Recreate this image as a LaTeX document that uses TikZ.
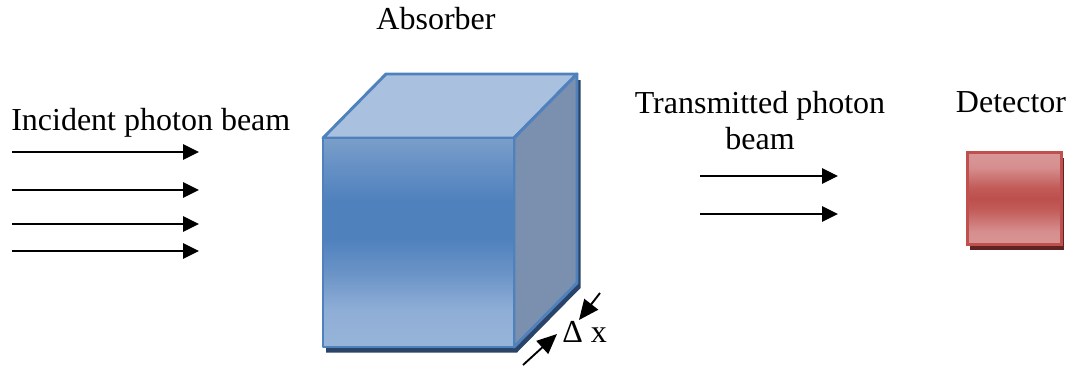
\documentclass[tikz,border=0pt]{standalone}
\usepackage{fontspec}
\setmainfont{Liberation Serif}
\usetikzlibrary{arrows.meta}
\definecolor{bline}{HTML}{4F81BD}
\definecolor{btop}{HTML}{AAC0DF}
\definecolor{bright}{HTML}{7B90AE}
\definecolor{bshadow}{HTML}{2A4468}
\definecolor{rline}{HTML}{C0504D}
\definecolor{rshadow}{HTML}{5E2322}
% TikZ fits the central 25bp..75bp band of a shading to the path
\pgfdeclareverticalshading{frontshade}{100bp}{
  rgb(0bp)=(0.59,0.71,0.85);
  rgb(25bp)=(0.59,0.71,0.85);
  rgb(34bp)=(0.56,0.68,0.84);
  rgb(42.5bp)=(0.42,0.58,0.78);
  rgb(51bp)=(0.31,0.506,0.741);
  rgb(60bp)=(0.31,0.506,0.741);
  rgb(70bp)=(0.42,0.58,0.78);
  rgb(75bp)=(0.48,0.62,0.79);
  rgb(100bp)=(0.48,0.62,0.79)}
\pgfdeclareverticalshading{detshade}{100bp}{
  rgb(0bp)=(0.85,0.58,0.58);
  rgb(25bp)=(0.85,0.58,0.58);
  rgb(32bp)=(0.84,0.56,0.56);
  rgb(44bp)=(0.76,0.36,0.35);
  rgb(50bp)=(0.74,0.31,0.30);
  rgb(56bp)=(0.76,0.36,0.35);
  rgb(67bp)=(0.84,0.56,0.56);
  rgb(75bp)=(0.85,0.59,0.59);
  rgb(100bp)=(0.85,0.59,0.59)}
\tikzset{
  x=0.75pt,y=-0.75pt,
  label text/.style={inner sep=0pt,font=\fontsize{24pt}{28pt}\selectfont},
  beam/.style={draw=black,line width=1.4pt,-{Triangle[length=12pt,width=11.5pt]}},
  gap/.style={draw=black,line width=1.4pt,-{Triangle[length=15pt,width=13pt]}},
  edge blue/.style={draw=bline,line width=2.2pt,line join=round},
}
\begin{document}
\begin{tikzpicture}
\useasboundingbox (0,0) rectangle (1073,368);
% absorber cube
\fill[bshadow] (326,340) -- (326,352.5) -- (517,352.5) -- (580.5,288) -- (580.5,80) -- (570,80) -- (514,340) -- cycle;
\filldraw[edge blue,fill=btop] (323,138) -- (386,74) -- (577,74) -- (514,138) -- cycle;
\filldraw[edge blue,fill=bright] (514,138) -- (577,74) -- (577,283) -- (514,347) -- cycle;
\shade[shading=frontshade] (323,138) rectangle (514,347);
\draw[edge blue] (323,138) rectangle (514,347);
% detector
\fill[rshadow] (970,158) rectangle (1064,250);
\shade[shading=detshade] (967.5,152.5) rectangle (1061.5,244.5);
\draw[draw=rline,line width=2.2pt] (967.5,152.5) rectangle (1061.5,244.5);
% text
\node[label text,anchor=base] (absorber) at (436,29) {Absorber};
\node[label text,anchor=base west] (incident) at (11,130) {Incident photon beam};
\node[label text,anchor=base] (trans1) at (760,113) {Transmitted photon};
\node[label text,anchor=base] (trans2) at (760,149) {beam};
\node[label text,anchor=base] (detector) at (1011,112) {Detector};
\node[label text,anchor=base west] (dx) at (562,342) {Δ x};
% beams
\foreach \n/\y in {a/152,b/190,c/224,d/251}{
  \coordinate (s\n) at (12,\y);
  \coordinate (e\n) at (199,\y);
  \draw[beam] (s\n) -- (e\n);
}
\foreach \n/\y in {a/176,b/214}{
  \coordinate (ts\n) at (700,\y);
  \coordinate (te\n) at (838,\y);
  \draw[beam] (ts\n) -- (te\n);
}
% thickness arrows
\coordinate (g1s) at (600,293);
\coordinate (g1e) at (579,320);
\coordinate (g2s) at (523,365);
\coordinate (g2e) at (557,334);
\draw[gap] (g1s) -- (g1e);
\draw[gap] (g2s) -- (g2e);
\end{tikzpicture}
\end{document}
